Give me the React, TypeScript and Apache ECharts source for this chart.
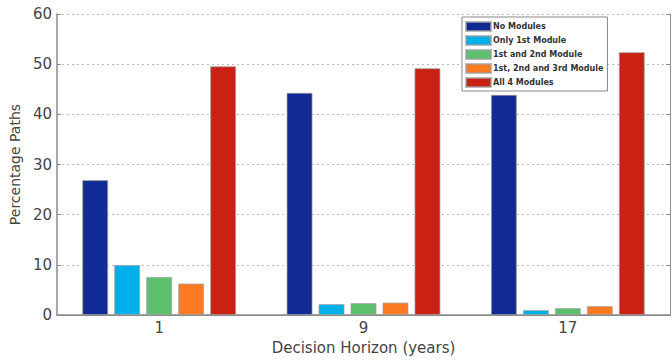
import React, { useEffect, useRef } from "react";
import * as echarts from "echarts";

// Decision horizons (years)
const horizons = ["1", "9", "17"];

// Share of paths (%) for each module configuration
const noModules = [26.9, 44.3, 43.9];
const only1st = [10.0, 2.2, 1.0];
const first2nd = [7.6, 2.4, 1.4];
const first2nd3rd = [6.3, 2.5, 1.8];
const all4 = [49.6, 49.2, 52.4];

const seriesNames = [
  "No Modules",
  "Only 1st Module",
  "1st and 2nd Module",
  "1st, 2nd and 3rd Module",
  "All 4 Modules",
];
const seriesData = [noModules, only1st, first2nd, first2nd3rd, all4];
const seriesColors = ["#112a94", "#00b0ea", "#5cc06c", "#fb7a22", "#c92214"];

const yTicks = [0, 10, 20, 30, 40, 50, 60];

const FONT = "DejaVu Sans";

export default function App() {
  const ref = useRef<HTMLDivElement>(null);

  useEffect(() => {
    if (!ref.current) return;
    const chart = echarts.init(ref.current, undefined, { renderer: "svg" });
    const axisLineColor = "#8a8a8a";
    chart.setOption({
      animation: false,
      backgroundColor: "#ffffff",
      textStyle: { fontFamily: FONT },
      grid: { left: 52, right: 2, top: 14, bottom: 39 },
      legend: {
        orient: "vertical",
        left: 462,
        top: 17,
        padding: [4, 4, 3, 3],
        itemWidth: 25,
        itemHeight: 9,
        itemGap: 3,
        borderColor: "#888",
        borderWidth: 1,
        backgroundColor: "#ffffff",
        icon: "rect",
        data: seriesNames,
        textStyle: {
          fontFamily: FONT,
          fontSize: 8,
          fontWeight: "bold",
          color: "#333",
          lineHeight: 10,
          padding: [0, 0, 0, -3],
        },
      },
      xAxis: [
        {
          type: "category",
          data: horizons,
          position: "bottom",
          name: "Decision Horizon (years)",
          nameLocation: "middle",
          nameGap: 16,
          nameTextStyle: { fontFamily: FONT, fontSize: 15, color: "#444" },
          axisLine: { lineStyle: { color: axisLineColor, width: 1.5 } },
          axisTick: {
            inside: true,
            alignWithLabel: true,
            length: 4,
            lineStyle: { color: axisLineColor },
          },
          axisLabel: { fontFamily: FONT, fontSize: 15, color: "#444", margin: 5 },
        },
        {
          type: "category",
          data: horizons,
          position: "top",
          axisLine: { lineStyle: { color: axisLineColor, width: 1 } },
          axisTick: {
            inside: true,
            alignWithLabel: true,
            length: 4,
            lineStyle: { color: axisLineColor },
          },
          axisLabel: { show: false },
        },
      ],
      yAxis: [
        {
          type: "value",
          min: 0,
          max: 60,
          interval: 10,
          position: "left",
          name: "Percentage Paths",
          nameLocation: "middle",
          nameGap: 28,
          nameTextStyle: { fontFamily: FONT, fontSize: 14, color: "#444" },
          axisLine: { show: true, lineStyle: { color: axisLineColor, width: 1.5 } },
          axisTick: { show: true, inside: true, length: 4, lineStyle: { color: axisLineColor } },
          axisLabel: {
            fontFamily: FONT,
            fontSize: 15,
            color: "#444",
            margin: 5,
            formatter: (v: number) => (yTicks.includes(v) ? String(v) : ""),
          },
          splitLine: {
            show: true,
            lineStyle: { color: "#bbbbbb", type: [2, 3], width: 1 },
          },
        },
        {
          type: "value",
          min: 0,
          max: 60,
          interval: 10,
          position: "right",
          axisLine: { show: true, lineStyle: { color: axisLineColor, width: 1 } },
          axisTick: { show: true, inside: true, length: 4, lineStyle: { color: axisLineColor } },
          axisLabel: { show: false },
          splitLine: { show: false },
        },
      ],
      series: seriesNames.map((name, i) => ({
        name,
        type: "bar",
        xAxisIndex: 0,
        yAxisIndex: 0,
        data: seriesData[i],
        barWidth: 26,
        barGap: "23%",
        itemStyle: {
          color: seriesColors[i],
          borderColor: "rgba(160,160,160,0.7)",
          borderWidth: 1,
        },
      })),
    });
    return () => chart.dispose();
  }, []);

  return (
    <div
      ref={ref}
      style={{ position: "fixed", left: 0, top: 0, width: 672, height: 360 }}
    />
  );
}
